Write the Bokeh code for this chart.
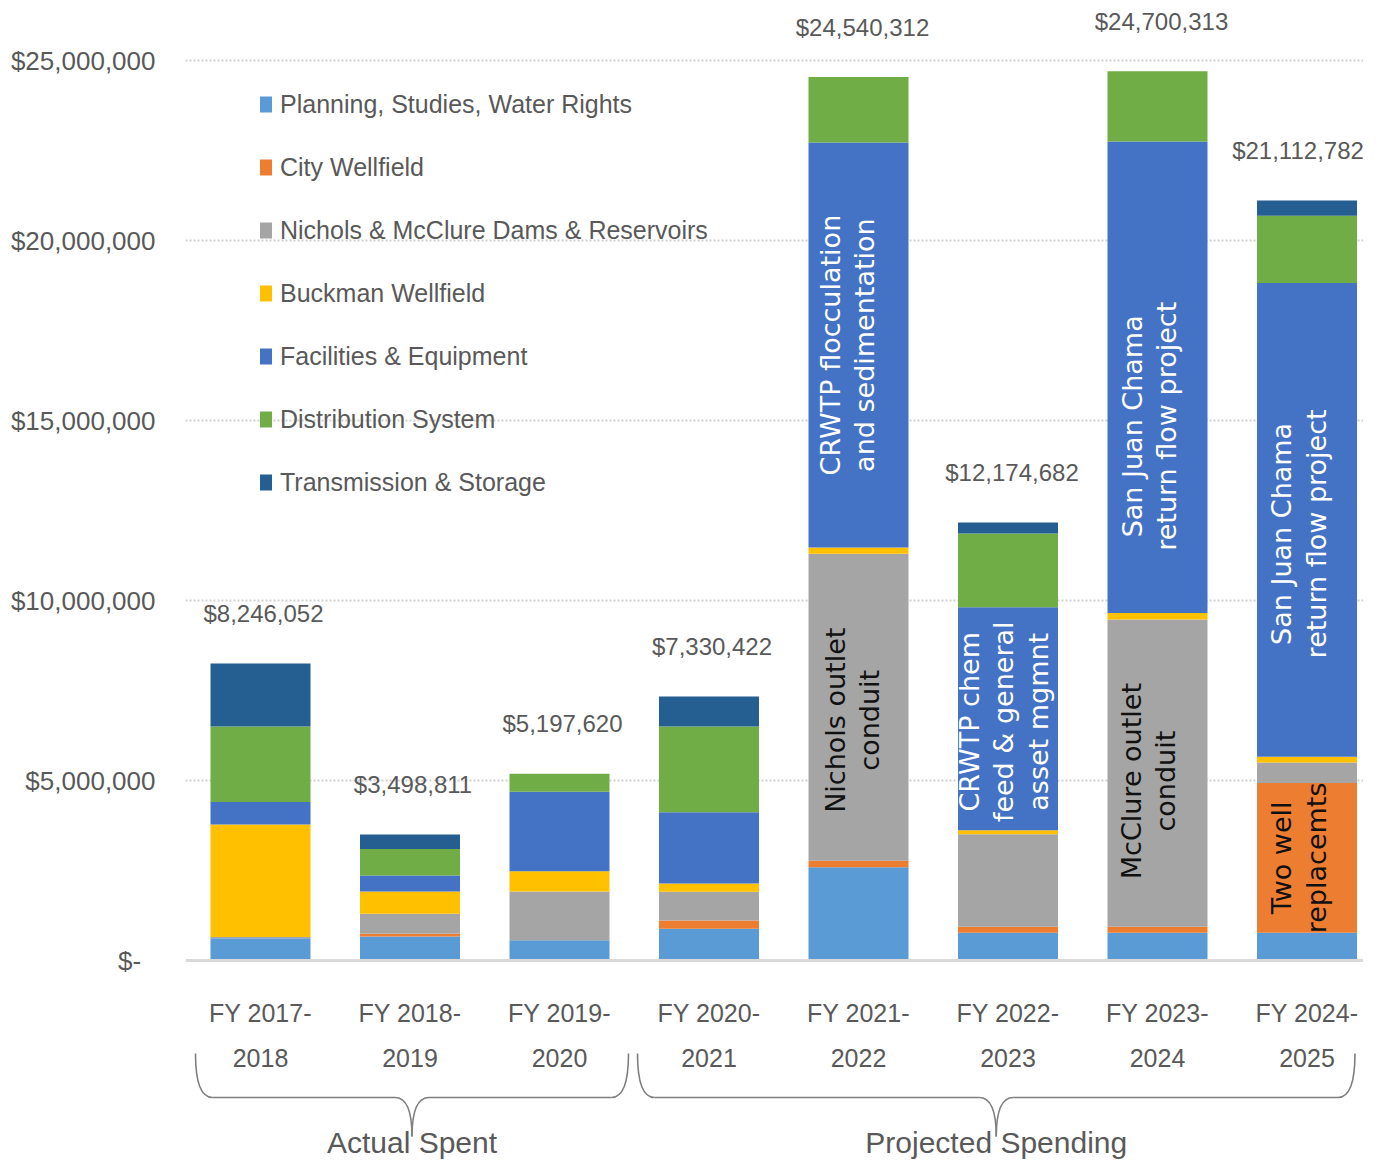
import math
from bokeh.plotting import figure
from bokeh.models import ColumnDataSource, Range1d, FixedTicker, NumeralTickFormatter, Span
from bokeh.core.properties import value
from bokeh.embed import file_html
from bokeh.resources import INLINE

# ---------------- data ----------------
categories = ["FY 2017-2018", "FY 2018-2019", "FY 2019-2020", "FY 2020-2021",
              "FY 2021-2022", "FY 2022-2023", "FY 2023-2024", "FY 2024-2025"]

series_names = ["Planning, Studies, Water Rights", "City Wellfield",
                "Nichols & McClure Dams & Reservoirs", "Buckman Wellfield",
                "Facilities & Equipment", "Distribution System", "Transmission & Storage"]

planning     = [620000, 670000, 560000, 880000, 2590000, 770000, 770000, 770000]
city_well    = [0, 70000, 0, 230000, 180000, 170000, 170000, 4160000]
nichols      = [30000, 560000, 1360000, 800000, 8530000, 2570000, 8530000, 570000]
buckman      = [3130000, 620000, 560000, 230000, 170000, 110000, 180000, 160000]
facilities   = [620000, 440000, 2210000, 1980000, 11250000, 6190000, 13100000, 13160000]
distribution = [2100000, 740000, 500000, 2380000, 1820000, 2050000, 1950000, 1870000]
transmission = [1750000, 400000, 0, 830000, 0, 310000, 0, 420000]

totals = [8246052, 3498811, 5197620, 7330422, 24540312, 12174682, 24700313, 21112782]

group_names = ["Actual Spent", "Projected Spending"]
group_members = [[0, 1, 2], [3, 4, 5, 6, 7]]

y_ticks = [0, 5000000, 10000000, 15000000, 20000000, 25000000]

# in-bar notes: (category index, series index, text)
notes = [
    (4, 4, "CRWTP flocculation\nand sedimentation"),
    (4, 2, "Nichols outlet\nconduit"),
    (5, 4, "CRWTP chem\nfeed & general\nasset mgmnt"),
    (6, 4, "San Juan Chama\nreturn flow project"),
    (6, 2, "McClure outlet\nconduit"),
    (7, 4, "San Juan Chama\nreturn flow project"),
    (7, 1, "Two well\nreplacemts"),
]

# ---------------- styles ----------------
colors = ["#5B9BD5", "#ED7D31", "#A5A5A5", "#FFC000", "#4472C4", "#70AD47", "#255E91"]
note_colors = {1: "#111111", 2: "#111111", 4: "#FFFFFF"}
note_nudge = [(-11, 0), (-6, 13), (-4, 3), (-8, 49), (-9, 8), (-8, 14), (-8, 0)]
total_nudge = [3, 3, 3, 3, 4, 4, 4, -9]
TEXT_GRAY = "#595959"
FONT = "Liberation Sans"

PX_PER_CAT = 149.5
PX_PER_USD = 36 / 1e6
FIG_W, FIG_H = 1363, 1160
LEFT = 185
FRAME_W, FRAME_H = FIG_W - LEFT, FIG_H

def dx(px):
    return px / PX_PER_CAT

def dy(px):
    return px / PX_PER_USD

x_start = -dx(75)
x_end = x_start + dx(FRAME_W)
y_end = dy(960)
y_start = y_end - dy(FRAME_H)

# ---------------- figure ----------------
p = figure(width=FIG_W, height=FIG_H, x_range=Range1d(x_start, x_end),
           y_range=Range1d(y_start, y_end), x_axis_location=None,
           output_backend="svg", toolbar_location=None,
           min_border_left=LEFT, min_border_right=0, min_border_top=0, min_border_bottom=0)
p.outline_line_color = None
p.background_fill_color = "white"
p.border_fill_color = "white"
p.xgrid.visible = False

p.ygrid.ticker = FixedTicker(ticks=y_ticks[1:])
p.ygrid.grid_line_color = "#D0D0D0"
p.ygrid.grid_line_dash = "2 2"
p.ygrid.grid_line_width = 2

yax = p.yaxis[0]
yax.ticker = FixedTicker(ticks=y_ticks)
yax.formatter = NumeralTickFormatter(format="$0,0")
yax.major_label_overrides = {0: "$-\u2007"}
yax.axis_line_color = None
yax.major_tick_line_color = None
yax.minor_tick_line_color = None
yax.major_tick_out = 0
yax.major_label_standoff = 30
yax.major_label_text_font = FONT
yax.major_label_text_font_size = "26px"
yax.major_label_text_color = TEXT_GRAY

xs = list(range(len(categories)))
keys = ["s%d" % i for i in range(len(series_names))]
series_values = [planning, city_well, nichols, buckman, facilities, distribution, transmission]
data = {"x": xs}
for k, v in zip(keys, series_values):
    data[k] = v
source = ColumnDataSource(data)

p.vbar_stack(keys, x="x", width=dx(100), color=colors, line_color=None,
             source=source, legend_label=series_names)

p.add_layout(Span(location=0, dimension="width", line_color="#D9D9D9", line_width=3))

# totals above bars
stack_tops = [sum(vals[i] for vals in series_values) for i in xs]
tot_src = ColumnDataSource(dict(x=xs, y=stack_tops, xo=total_nudge,
                                t=["${:,}".format(v) for v in totals]))
p.text(x="x", y="y", text="t", source=tot_src, x_offset="xo", y_offset=-50,
       text_align="center", text_baseline="middle",
       text_font=value(FONT), text_font_size="24px", text_color=TEXT_GRAY)

# notes inside bar segments
nx, ny, nt, nc, nxo, nyo = [], [], [], [], [], []
for (ci, si, txt), (ox, oy) in zip(notes, note_nudge):
    bottom = sum(series_values[k][ci] for k in range(si))
    top = bottom + series_values[si][ci]
    nx.append(ci)
    ny.append((bottom + top) / 2)
    nt.append(txt)
    nc.append(note_colors[si])
    nxo.append(ox)
    nyo.append(oy)
note_src = ColumnDataSource(dict(x=nx, y=ny, t=nt, c=nc, xo=nxo, yo=nyo))
p.text(x="x", y="y", text="t", source=note_src, angle=math.pi / 2,
       x_offset="xo", y_offset="yo", text_align="center", text_baseline="middle",
       text_font=value("DejaVu Sans"), text_font_size="27px", text_color="c",
       text_line_height=1.12)

# category labels (two lines)
line1 = [c[:8] for c in categories]
line2 = [c[8:] for c in categories]
cat_src = ColumnDataSource(dict(x=xs, y1=[-dy(52)] * len(xs), y2=[-dy(97)] * len(xs),
                                l1=line1, l2=line2))
for ycol, tcol in (("y1", "l1"), ("y2", "l2")):
    p.text(x="x", y=ycol, text=tcol, source=cat_src, text_align="center",
           text_baseline="middle", text_font=value(FONT), text_font_size="25px",
           text_color=TEXT_GRAY)

# group braces
brace_pad = [(65, 69), (71.5, 48)]
y_top, y_mid, y_tip = -dy(93), -dy(137), -dy(176)
r = dx(17)
q = dict(x0=[], y0=[], x1=[], y1=[], cx=[], cy=[])
seg = dict(x0=[], y0=[], x1=[], y1=[])
gl = dict(x=[], y=[], t=[])

def add_q(a, b, c, d, e, f):
    q["x0"].append(a); q["y0"].append(b); q["x1"].append(c)
    q["y1"].append(d); q["cx"].append(e); q["cy"].append(f)

for name, members, (pl, pr) in zip(group_names, group_members, brace_pad):
    xl = members[0] - dx(pl)
    xr = members[-1] + dx(pr)
    xt = (xl + xr) / 2
    add_q(xl, y_top, xl + r, y_mid, xl, y_mid)
    add_q(xt - r, y_mid, xt, y_tip, xt, y_mid)
    add_q(xt, y_tip, xt + r, y_mid, xt, y_mid)
    add_q(xr - r, y_mid, xr, y_top, xr, y_mid)
    for a, b in ((xl + r, xt - r), (xt + r, xr - r)):
        seg["x0"].append(a); seg["y0"].append(y_mid)
        seg["x1"].append(b); seg["y1"].append(y_mid)
    gl["x"].append(xt)
    gl["y"].append(-dy(198))
    gl["t"].append(name)

p.quadratic(x0="x0", y0="y0", x1="x1", y1="y1", cx="cx", cy="cy",
            source=ColumnDataSource(q), line_color="#7F7F7F", line_width=1.6)
p.segment(x0="x0", y0="y0", x1="x1", y1="y1", source=ColumnDataSource(seg),
          line_color="#7F7F7F", line_width=1.6)
p.text(x="x", y="y", text="t", source=ColumnDataSource(gl), text_align="center",
       text_baseline="bottom", text_font=value(FONT), text_font_size="30px",
       text_color=TEXT_GRAY)

# legend
lg = p.legend[0]
lg.location = (73, 663)
lg.padding = 0
lg.margin = 0
lg.spacing = 33
lg.label_height = 30
lg.glyph_height = 20
lg.glyph_width = 15
lg.label_standoff = 7
lg.label_text_font = FONT
lg.label_text_font_size = "25px"
lg.label_text_color = TEXT_GRAY
lg.border_line_color = None
lg.background_fill_alpha = 0

open("out.html", "w").write(file_html(p, INLINE))
